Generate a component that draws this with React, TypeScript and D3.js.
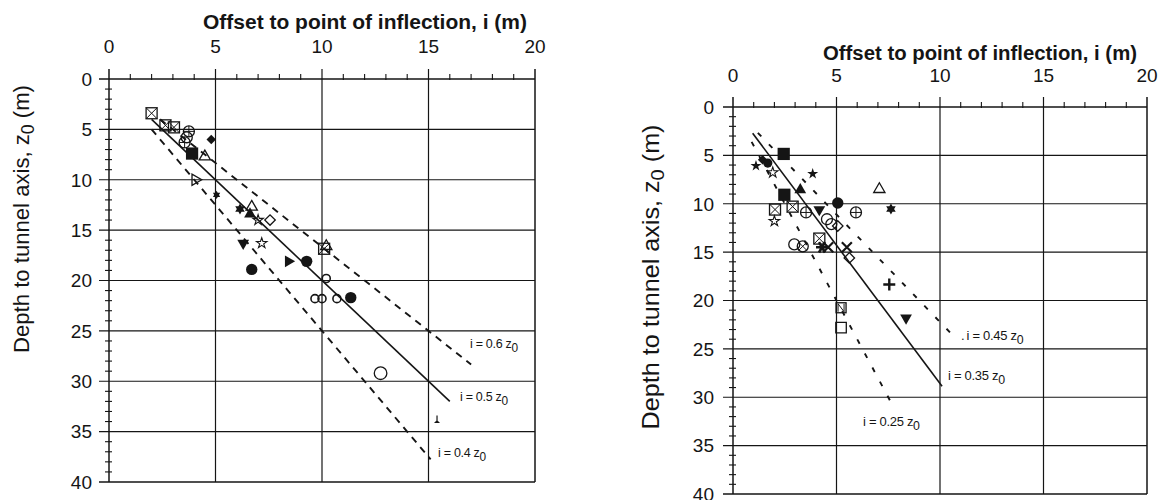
import React from 'react';
import * as d3 from 'd3';

// ---------- data ----------
const xTickValues = [0, 5, 10, 15, 20];
const zTickValues = [0, 5, 10, 15, 20, 25, 30, 35, 40];

// Left panel observations (offset i, depth z0, symbol)
const leftI = [2.0, 2.65, 3.05, 3.75, 3.65, 3.55, 4.8, 3.9, 4.5, 4.05, 5.05, 6.15, 6.7, 6.62, 7.0, 7.56, 6.3, 7.17, 10.2, 10.1, 8.42, 9.28, 6.7, 10.2, 9.67, 10.0, 10.7, 11.35, 12.75, 15.4];
const leftZ = [3.4, 4.6, 4.8, 5.2, 5.8, 6.3, 6.0, 7.4, 7.7, 10.0, 11.5, 12.9, 12.7, 13.4, 14.0, 14.0, 16.3, 16.3, 16.6, 16.85, 18.1, 18.1, 18.9, 19.8, 21.8, 21.8, 21.8, 21.7, 29.2, 33.9];
const leftSym = ['sqX', 'sqX', 'sqX', 'circPlus', 'circO', 'circPlus', 'diamondF', 'squareF', 'triO', 'triRO', 'star6S', 'star6F', 'triO', 'triF', 'starO', 'diamondO', 'triDF', 'starO', 'triO', 'sqX', 'triRF', 'circF', 'circF', 'circS', 'circS', 'circS', 'circS', 'circF', 'circL', 'tee'];

// Left panel reference lines i = k * z0
const leftK = [0.6, 0.5, 0.4];
const leftFrom = [2.4, 2.0, 2.0];
const leftTo = [17.0, 16.0, 15.1];
const leftLabel = ['0.6', '0.5', '0.4'];
const leftLabelI = [16.95, 16.48, 15.45];
const leftLabelZ = [26.7, 32.0, 37.5];

// Right panel observations
const rightI = [2.45, 1.43, 1.68, 1.11, 1.92, 3.85, 2.48, 3.25, 7.07, 5.06, 7.63, 2.03, 2.88, 2.0, 3.53, 5.94, 4.17, 4.54, 4.75, 5.06, 2.96, 3.37, 4.17, 4.3, 4.6, 5.5, 5.62, 7.55, 8.36, 5.22, 5.22];
const rightZ = [4.85, 5.45, 5.8, 6.08, 6.77, 6.9, 9.07, 8.56, 8.5, 9.93, 10.55, 10.6, 10.3, 11.8, 10.9, 10.9, 10.6, 11.6, 12.1, 12.3, 14.2, 14.4, 13.6, 14.5, 14.5, 14.5, 15.6, 18.35, 21.8, 20.75, 22.8];
const rightSym = ['squareF', 'diamondF', 'circFs', 'starF', 'starO', 'starF', 'squareF', 'triF', 'triO', 'circF', 'star6F', 'sqX', 'sqX', 'starO', 'circPlus', 'circPlus', 'triDF', 'circO', 'circO', 'diamondO', 'circO', 'circX', 'sqX', 'asterisk', 'xBold', 'xBold', 'diamondO', 'cross', 'triDF', 'sqSlash', 'squareO'];

const rightK = [0.45, 0.35, 0.25];
const rightFrom = [1.2, 0.95, 0.9];
const rightTo = [10.5, 10.1, 7.8];
const rightLabel = ['0.45', '0.35', '0.25'];
const rightLabelI = [11.3, 10.39, 6.28];
const rightLabelZ = [24.1, 28.25, 33.0];
const rightLabelDot = [true, false, false];

// ---------- styles ----------
const INK = '#151515';
const FONT = '"Liberation Sans", Arial, Helvetica, sans-serif';

const starPath = (size: number) => d3.symbol().type(d3.symbolStar).size(size)() as string;
const triPath = (size: number) => d3.symbol().type(d3.symbolTriangle).size(size)() as string;
const sqPath = (size: number) => d3.symbol().type(d3.symbolSquare).size(size)() as string;

function hexagram(r: number) {
  const p = (a: number) => [r * Math.sin(a), -r * Math.cos(a)];
  const t1 = [0, 2, 4].map((k) => p((k * Math.PI) / 3));
  const t2 = [1, 3, 5].map((k) => p((k * Math.PI) / 3));
  const f = (t: number[][]) => 'M' + t.map((q) => q.join(',')).join('L') + 'Z';
  return f(t1) + f(t2);
}

function Marker({ t, x, y }: { t: string; x: number; y: number }) {
  const tr = `translate(${x},${y})`;
  const sw = 1.3;
  switch (t) {
    case 'sqX': {
      const h = 5.5;
      return (
        <g transform={tr}>
          <rect x={-h} y={-h} width={2 * h} height={2 * h} fill="none" stroke={INK} strokeWidth={sw} />
          <path d={`M${-h},${-h}L${h},${h}M${h},${-h}L${-h},${h}`} stroke={INK} strokeWidth={1} />
        </g>
      );
    }
    case 'sqSlash': {
      const h = 5;
      return (
        <g transform={tr}>
          <rect x={-h} y={-h} width={2 * h} height={2 * h} fill="none" stroke={INK} strokeWidth={sw} />
          <path d={`M${-h + 2},${h - 1}L${-h + 2},${-h + 1}L${h - 2},${h - 1}L${h - 2},${-h + 1}`} fill="none" stroke={INK} strokeWidth={1} />
        </g>
      );
    }
    case 'squareF':
      return <path transform={tr} d={sqPath(150)} fill={INK} />;
    case 'squareO':
      return <path transform={tr} d={sqPath(110)} fill="none" stroke={INK} strokeWidth={sw} />;
    case 'circO':
      return <circle cx={x} cy={y} r={5.5} fill="none" stroke={INK} strokeWidth={sw} />;
    case 'circS':
      return <circle cx={x} cy={y} r={4} fill="none" stroke={INK} strokeWidth={1.6} />;
    case 'circL':
      return <circle cx={x} cy={y} r={6.3} fill="none" stroke={INK} strokeWidth={1.3} />;
    case 'circF':
      return <circle cx={x} cy={y} r={5.7} fill={INK} />;
    case 'circFs':
      return <circle cx={x} cy={y} r={4.6} fill={INK} />;
    case 'circPlus':
      return (
        <g transform={tr}>
          <circle r={5.5} fill="none" stroke={INK} strokeWidth={sw} />
          <path d="M-5.5,0H5.5M0,-5.5V5.5" stroke={INK} strokeWidth={1} />
        </g>
      );
    case 'circX':
      return (
        <g transform={tr}>
          <circle r={5.5} fill="none" stroke={INK} strokeWidth={sw} />
          <path d="M-3.9,-3.9L3.9,3.9M3.9,-3.9L-3.9,3.9" stroke={INK} strokeWidth={1} />
        </g>
      );
    case 'diamondF':
      return <path transform={`${tr} rotate(45)`} d={sqPath(45)} fill={INK} />;
    case 'diamondO':
      return <path transform={`${tr} rotate(45)`} d={sqPath(55)} fill="none" stroke={INK} strokeWidth={sw} />;
    case 'triF':
      return <path transform={tr} d={triPath(60)} fill={INK} />;
    case 'triO':
      return <path transform={tr} d={triPath(55)} fill="none" stroke={INK} strokeWidth={sw} />;
    case 'triDF':
      return <path transform={`${tr} rotate(180)`} d={triPath(60)} fill={INK} />;
    case 'triRF':
      return <path transform={`${tr} rotate(90)`} d={triPath(60)} fill={INK} />;
    case 'triRO':
      return <path transform={`${tr} rotate(90)`} d={triPath(55)} fill="none" stroke={INK} strokeWidth={sw} />;
    case 'starF':
      return <path transform={tr} d={starPath(38)} fill={INK} />;
    case 'starO':
      return <path transform={tr} d={starPath(34)} fill="none" stroke={INK} strokeWidth={1.1} />;
    case 'star6F':
      return <path transform={tr} d={hexagram(5.5)} fill={INK} />;
    case 'star6S':
      return <path transform={tr} d={hexagram(4.2)} fill={INK} />;
    case 'cross':
      return <path transform={tr} d="M-6,0H6M0,-6V6" stroke={INK} strokeWidth={2.4} />;
    case 'xBold':
      return <path transform={tr} d="M-5,-5L5,5M5,-5L-5,5" stroke={INK} strokeWidth={2.2} />;
    case 'asterisk':
      return <path transform={tr} d="M-6,0H6M-3,-5.2L3,5.2M3,-5.2L-3,5.2" stroke={INK} strokeWidth={2.6} />;
    case 'tee':
      return (
        <g transform={tr}>
          <path d="M0,-5V0" stroke={INK} strokeWidth={1.2} />
          <path d="M-3,2.5L0,-0.5L3,2.5Z" fill={INK} />
        </g>
      );
    default:
      return null;
  }
}

interface PanelProps {
  px: [number, number];
  py: [number, number];
  I: number[];
  Z: number[];
  S: string[];
  K: number[];
  from: number[];
  to: number[];
  labels: string[];
  labelI: number[];
  labelZ: number[];
  labelDot?: boolean[];
  labelSize: number;
  dash: string;
  solidIndex: number;
  title: { cx: number; y: number; len: number; size: number };
  tickY: number;
  yTitle: { x: number; cy: number; len: number; size: number };
  yTickRight: number;
}

function Panel(p: PanelProps) {
  const x = d3.scaleLinear().domain([0, 20]).range(p.px);
  const y = d3.scaleLinear().domain([0, 40]).range(p.py);
  const [x0, x1] = p.px;
  const [y0, y1] = p.py;
  const minorX = d3.range(0, 21, 1).filter((v) => v % 5 !== 0);
  const minorZ = d3.range(0, 41, 1).filter((v) => v % 5 !== 0);

  return (
    <g>
      {/* grid */}
      {xTickValues.map((v) => (
        <line key={'gx' + v} x1={x(v)} x2={x(v)} y1={y0 - 10} y2={y1} stroke={INK} strokeWidth={v === 0 || v === 20 ? 1.5 : 1.2} />
      ))}
      {zTickValues.map((v) => (
        <line key={'gz' + v} x1={x0 - 10} x2={x1} y1={y(v)} y2={y(v)} stroke={INK} strokeWidth={v === 0 || v === 40 ? 1.5 : 1.2} />
      ))}
      {minorX.map((v) => (
        <line key={'mx' + v} x1={x(v)} x2={x(v)} y1={y0 - 5} y2={y0 + 1} stroke={INK} strokeWidth={1.1} />
      ))}
      {minorZ.map((v) => (
        <line key={'mz' + v} x1={x0 - 4} x2={x0 + 3} y1={y(v)} y2={y(v)} stroke={INK} strokeWidth={1.1} />
      ))}
      {/* tick labels */}
      {xTickValues.map((v) => (
        <text key={'tx' + v} x={x(v)} y={p.tickY} textAnchor="middle" fontFamily={FONT} fontSize={19} fill={INK}>
          {v}
        </text>
      ))}
      {zTickValues.map((v) => (
        <text key={'tz' + v} x={p.yTickRight} y={y(v)} dy="0.36em" textAnchor="end" fontFamily={FONT} fontSize={19} fill={INK}>
          {v}
        </text>
      ))}
      {/* titles */}
      <text x={p.title.cx} y={p.title.y} textAnchor="middle" fontFamily={FONT} fontWeight="bold" fontSize={p.title.size} textLength={p.title.len} lengthAdjust="spacingAndGlyphs" fill={INK}>
        Offset to point of inflection, i (m)
      </text>
      <text
        transform={`translate(${p.yTitle.x},${p.yTitle.cy}) rotate(-90)`}
        textAnchor="middle"
        fontFamily={FONT}
        fontSize={p.yTitle.size}
        textLength={p.yTitle.len}
        lengthAdjust="spacingAndGlyphs"
        fill={INK}
      >
        Depth to tunnel axis, z
        <tspan dy={5} fontSize={p.yTitle.size * 0.8}>
          0
        </tspan>
        <tspan dy={-5}> (m)</tspan>
      </text>
      {/* reference lines i = k z0 */}
      {p.K.map((k, j) => {
        const pts: [number, number][] = [p.from[j], p.to[j]].map((i) => [x(i), y(i / k)] as [number, number]);
        const d = d3.line()(pts) as string;
        const solid = j === p.solidIndex;
        return <path key={'l' + j} d={d} fill="none" stroke={INK} strokeWidth={solid ? 1.6 : 1.9} strokeDasharray={solid ? undefined : p.dash} />;
      })}
      {p.labels.map((lab, j) => (
        <text key={'lab' + j} x={x(p.labelI[j])} y={y(p.labelZ[j])} fontFamily={FONT} fontSize={p.labelSize} letterSpacing={-0.3} fill={INK}>
          {p.labelDot && p.labelDot[j] ? <tspan dx={-6}>.&#8201;</tspan> : null}
          {`i = ${lab} z`}
          <tspan dy={4} fontSize={p.labelSize * 0.95}>
            0
          </tspan>
        </text>
      ))}
      {/* markers */}
      {p.I.map((i, j) => (
        <Marker key={'m' + j} t={p.S[j]} x={x(i)} y={y(p.Z[j])} />
      ))}
    </g>
  );
}

export default function App() {
  return (
    <svg width={1162} height={500} style={{ position: 'absolute', left: 0, top: 0, background: '#fff' }}>
      <rect width={1162} height={500} fill="#fff" />
      <Panel
        px={[109, 535]}
        py={[79, 482]}
        I={leftI}
        Z={leftZ}
        S={leftSym}
        K={leftK}
        from={leftFrom}
        to={leftTo}
        labels={leftLabel}
        labelI={leftLabelI}
        labelZ={leftLabelZ}
        labelSize={12.5}
        dash="7 6"
        solidIndex={1}
        title={{ cx: 365, y: 29, len: 324, size: 20.5 }}
        tickY={53}
        yTitle={{ x: 29, cy: 219, len: 268, size: 22 }}
        yTickRight={92}
      />
      <Panel
        px={[733, 1147]}
        py={[107, 494]}
        I={rightI}
        Z={rightZ}
        S={rightSym}
        K={rightK}
        from={rightFrom}
        to={rightTo}
        labels={rightLabel}
        labelI={rightLabelI}
        labelZ={rightLabelZ}
        labelDot={rightLabelDot}
        labelSize={13}
        dash="5 11"
        solidIndex={1}
        title={{ cx: 980, y: 60, len: 314, size: 20 }}
        tickY={82}
        yTitle={{ x: 659, cy: 277, len: 305, size: 24 }}
        yTickRight={714}
      />
    </svg>
  );
}
